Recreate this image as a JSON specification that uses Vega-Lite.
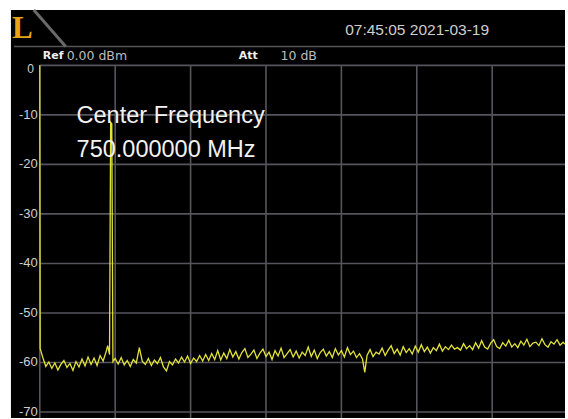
{
  "$schema": "https://vega.github.io/schema/vega-lite/v6.json",
  "width": 568,
  "height": 419,
  "autosize": {"type": "fit", "contains": "padding"},
  "padding": 0,
  "background": "white",
  "config": {"view": {"stroke": null}},
  "encoding": {
    "x": {"field": "x", "type": "quantitative", "scale": {"domain": [-0.5277, 6.9657], "nice": false, "zero": false}, "axis": null},
    "y": {"field": "y", "type": "quantitative", "scale": {"domain": [-71.21, 13.195], "nice": false, "zero": false}, "axis": null}
  },
  "layer": [
    {
      "data": {"values": [{"x": -0.3826, "y": 11.18}]},
      "mark": {"type": "rect", "color": "#000000"},
      "encoding": {"x2": {"datum": 6.9657}, "y2": {"datum": -71.21}}
    },
    {
      "data": {"values": [{"x": 0, "y": 0}, {"x": 0, "y": -10}, {"x": 0, "y": -20}, {"x": 0, "y": -30}, {"x": 0, "y": -40}, {"x": 0, "y": -50}, {"x": 0, "y": -60}, {"x": 0, "y": -70}]},
      "mark": {"type": "rule", "color": "#55555d", "strokeWidth": 1.6},
      "encoding": {"x2": {"datum": 6.9657}, "y2": {"field": "y"}}
    },
    {
      "data": {"values": [{"x": 0, "y": 0}, {"x": 1, "y": 0}, {"x": 2, "y": 0}, {"x": 3, "y": 0}, {"x": 4, "y": 0}, {"x": 5, "y": 0}, {"x": 6, "y": 0}]},
      "mark": {"type": "rule", "color": "#55555d", "strokeWidth": 1.6},
      "encoding": {"x2": {"field": "x"}, "y2": {"datum": -71.21}}
    },
    {
      "data": {"values": [{"x": -0.343, "y": 3.828}]},
      "mark": {"type": "rule", "color": "#555555", "strokeWidth": 1.5},
      "encoding": {"x2": {"datum": 6.9657}, "y2": {"field": "y"}}
    },
    {
      "data": {"values": [{"x": -0.079, "y": 11.18}]},
      "mark": {"type": "rule", "color": "#6a6a6a", "strokeWidth": 3},
      "encoding": {"x2": {"datum": 0.343}, "y2": {"datum": 3.828}}
    },
    {
      "data": {"values": [
        {"x": 0, "y": 0}, {"x": 0.005, "y": -57.2}, {"x": 0.04, "y": -59.0}, {"x": 0.08, "y": -60.8}, {"x": 0.12, "y": -59.9},
        {"x": 0.16, "y": -61.2}, {"x": 0.2, "y": -60.1}, {"x": 0.24, "y": -61.5}, {"x": 0.28, "y": -60.4}, {"x": 0.32, "y": -59.6},
        {"x": 0.36, "y": -61.0}, {"x": 0.4, "y": -60.2}, {"x": 0.44, "y": -61.6}, {"x": 0.48, "y": -59.8}, {"x": 0.52, "y": -60.9},
        {"x": 0.56, "y": -59.3}, {"x": 0.6, "y": -60.7}, {"x": 0.64, "y": -58.9}, {"x": 0.68, "y": -60.4}, {"x": 0.72, "y": -59.1},
        {"x": 0.76, "y": -60.6}, {"x": 0.8, "y": -58.6}, {"x": 0.84, "y": -59.7}, {"x": 0.88, "y": -57.8}, {"x": 0.9, "y": -56.6},
        {"x": 0.925, "y": -58.4}, {"x": 0.94, "y": -11.5}, {"x": 0.955, "y": -11.8}, {"x": 0.97, "y": -59.8},
        {"x": 1.0, "y": -59.2}, {"x": 1.04, "y": -60.3}, {"x": 1.08, "y": -59.0}, {"x": 1.12, "y": -60.5}, {"x": 1.16, "y": -59.6},
        {"x": 1.2, "y": -60.8}, {"x": 1.24, "y": -59.4}, {"x": 1.28, "y": -60.1}, {"x": 1.32, "y": -57.0}, {"x": 1.36, "y": -59.8},
        {"x": 1.4, "y": -60.4}, {"x": 1.44, "y": -59.2}, {"x": 1.48, "y": -60.6}, {"x": 1.52, "y": -59.5}, {"x": 1.56, "y": -60.2},
        {"x": 1.6, "y": -59.0}, {"x": 1.64, "y": -60.9}, {"x": 1.68, "y": -61.7}, {"x": 1.72, "y": -59.8}, {"x": 1.76, "y": -60.5},
        {"x": 1.8, "y": -59.3}, {"x": 1.84, "y": -60.1}, {"x": 1.88, "y": -58.9}, {"x": 1.92, "y": -59.9}, {"x": 1.96, "y": -58.7},
        {"x": 2.0, "y": -60.2}, {"x": 2.04, "y": -59.1}, {"x": 2.08, "y": -59.8}, {"x": 2.12, "y": -58.6}, {"x": 2.16, "y": -59.7},
        {"x": 2.2, "y": -58.4}, {"x": 2.24, "y": -59.6}, {"x": 2.28, "y": -58.2}, {"x": 2.32, "y": -59.4}, {"x": 2.36, "y": -57.6},
        {"x": 2.4, "y": -59.5}, {"x": 2.44, "y": -58.1}, {"x": 2.48, "y": -59.2}, {"x": 2.52, "y": -57.4}, {"x": 2.56, "y": -58.9},
        {"x": 2.6, "y": -57.8}, {"x": 2.64, "y": -59.3}, {"x": 2.68, "y": -58.0}, {"x": 2.72, "y": -57.2}, {"x": 2.76, "y": -59.0},
        {"x": 2.8, "y": -58.3}, {"x": 2.84, "y": -57.5}, {"x": 2.88, "y": -59.2}, {"x": 2.92, "y": -58.1}, {"x": 2.96, "y": -57.3},
        {"x": 3.0, "y": -58.8}, {"x": 3.04, "y": -57.9}, {"x": 3.08, "y": -59.4}, {"x": 3.12, "y": -57.6}, {"x": 3.16, "y": -58.7},
        {"x": 3.2, "y": -57.1}, {"x": 3.24, "y": -59.0}, {"x": 3.28, "y": -58.2}, {"x": 3.32, "y": -57.4}, {"x": 3.36, "y": -58.9},
        {"x": 3.4, "y": -57.7}, {"x": 3.44, "y": -59.1}, {"x": 3.48, "y": -57.9}, {"x": 3.52, "y": -58.6}, {"x": 3.56, "y": -56.9},
        {"x": 3.6, "y": -58.8}, {"x": 3.64, "y": -57.5}, {"x": 3.68, "y": -59.2}, {"x": 3.72, "y": -58.0}, {"x": 3.76, "y": -57.3},
        {"x": 3.8, "y": -58.7}, {"x": 3.84, "y": -57.8}, {"x": 3.88, "y": -59.0}, {"x": 3.92, "y": -57.2}, {"x": 3.96, "y": -58.5},
        {"x": 4.0, "y": -57.6}, {"x": 4.04, "y": -58.9}, {"x": 4.08, "y": -57.0}, {"x": 4.12, "y": -58.4}, {"x": 4.16, "y": -57.7},
        {"x": 4.2, "y": -59.0}, {"x": 4.24, "y": -58.2}, {"x": 4.28, "y": -59.3}, {"x": 4.31, "y": -62.0}, {"x": 4.34, "y": -58.6},
        {"x": 4.38, "y": -57.4}, {"x": 4.42, "y": -58.8}, {"x": 4.46, "y": -57.9}, {"x": 4.5, "y": -58.3}, {"x": 4.54, "y": -57.1},
        {"x": 4.58, "y": -58.6}, {"x": 4.62, "y": -57.5}, {"x": 4.66, "y": -56.6}, {"x": 4.7, "y": -58.2}, {"x": 4.74, "y": -57.3},
        {"x": 4.78, "y": -58.5}, {"x": 4.82, "y": -56.8}, {"x": 4.86, "y": -58.0}, {"x": 4.9, "y": -57.2}, {"x": 4.94, "y": -58.3},
        {"x": 4.98, "y": -56.7}, {"x": 5.02, "y": -57.9}, {"x": 5.06, "y": -56.4}, {"x": 5.1, "y": -57.8}, {"x": 5.14, "y": -56.9},
        {"x": 5.18, "y": -58.1}, {"x": 5.22, "y": -57.0}, {"x": 5.26, "y": -57.6}, {"x": 5.3, "y": -56.3}, {"x": 5.34, "y": -57.7},
        {"x": 5.38, "y": -56.8}, {"x": 5.42, "y": -57.4}, {"x": 5.46, "y": -56.5}, {"x": 5.5, "y": -57.3}, {"x": 5.54, "y": -57.0},
        {"x": 5.58, "y": -57.5}, {"x": 5.62, "y": -56.2}, {"x": 5.66, "y": -57.2}, {"x": 5.7, "y": -56.6}, {"x": 5.74, "y": -57.4},
        {"x": 5.78, "y": -56.0}, {"x": 5.82, "y": -57.1}, {"x": 5.86, "y": -55.6}, {"x": 5.9, "y": -56.9}, {"x": 5.94, "y": -57.3},
        {"x": 5.98, "y": -56.1}, {"x": 6.02, "y": -55.4}, {"x": 6.06, "y": -56.8}, {"x": 6.1, "y": -57.2}, {"x": 6.14, "y": -56.0},
        {"x": 6.18, "y": -56.7}, {"x": 6.22, "y": -55.5}, {"x": 6.26, "y": -56.9}, {"x": 6.3, "y": -56.2}, {"x": 6.34, "y": -57.0},
        {"x": 6.38, "y": -55.7}, {"x": 6.42, "y": -56.5}, {"x": 6.46, "y": -55.3}, {"x": 6.5, "y": -56.8}, {"x": 6.54, "y": -56.1},
        {"x": 6.58, "y": -55.9}, {"x": 6.62, "y": -56.6}, {"x": 6.66, "y": -55.2}, {"x": 6.7, "y": -56.4}, {"x": 6.74, "y": -56.9},
        {"x": 6.78, "y": -55.8}, {"x": 6.82, "y": -56.3}, {"x": 6.86, "y": -55.4}, {"x": 6.9, "y": -56.5}, {"x": 6.94, "y": -55.9},
        {"x": 6.965, "y": -56.3}
      ]},
      "mark": {"type": "line", "color": "#e2e23a", "strokeWidth": 1.3},
      "encoding": {"order": {"field": "x", "type": "quantitative"}}
    },
    {
      "data": {"values": [{"x": -0.0264, "y": -10, "t": "-10"}, {"x": -0.0264, "y": -20, "t": "-20"}, {"x": -0.0264, "y": -30, "t": "-30"}, {"x": -0.0264, "y": -40, "t": "-40"}, {"x": -0.0264, "y": -50, "t": "-50"}, {"x": -0.0264, "y": -60, "t": "-60"}, {"x": -0.0264, "y": -70, "t": "-70"}]},
      "mark": {"type": "text", "align": "right", "baseline": "middle", "font": "Liberation Sans", "fontSize": 13, "color": "#cfcfcf"},
      "encoding": {"text": {"field": "t"}}
    },
    {
      "data": {"values": [{"x": -0.079, "y": -0.7, "t": "0"}]},
      "mark": {"type": "text", "align": "right", "baseline": "middle", "font": "Liberation Sans", "fontSize": 12, "color": "#cfcfcf"},
      "encoding": {"text": {"field": "t"}}
    },
    {
      "data": {"values": [{"x": 0.488, "y": -11.58, "t": "Center Frequency"}, {"x": 0.488, "y": -18.43, "t": "750.000000 MHz"}]},
      "mark": {"type": "text", "align": "left", "baseline": "alphabetic", "font": "Liberation Sans", "fontSize": 23.5, "color": "#f2f2f2"},
      "encoding": {"text": {"field": "t"}}
    },
    {
      "data": {"values": [{"x": 0.04, "y": 1.914, "t": "Ref"}, {"x": 2.639, "y": 1.914, "t": "Att"}]},
      "mark": {"type": "text", "align": "left", "baseline": "middle", "font": "DejaVu Sans", "fontWeight": "bold", "fontSize": 11, "color": "#f0f0f0"},
      "encoding": {"text": {"field": "t"}}
    },
    {
      "data": {"values": [{"x": 0.356, "y": 1.914, "t": "0.00 dBm"}, {"x": 3.193, "y": 1.914, "t": "10 dB"}]},
      "mark": {"type": "text", "align": "left", "baseline": "middle", "font": "DejaVu Sans", "fontSize": 12.5, "color": "#bdbdbd"},
      "encoding": {"text": {"field": "t"}}
    },
    {
      "data": {"values": [{"x": 4.05, "y": 7.05, "t": "07:45:05 2021-03-19"}]},
      "mark": {"type": "text", "align": "left", "baseline": "middle", "font": "Liberation Sans", "fontSize": 15.5, "color": "#cfcfcf"},
      "encoding": {"text": {"field": "t"}}
    },
    {
      "data": {"values": [{"x": -0.369, "y": 5.54, "t": "L"}]},
      "mark": {"type": "text", "align": "left", "baseline": "alphabetic", "font": "Liberation Serif", "fontWeight": "bold", "fontSize": 31, "color": "#e8a317"},
      "encoding": {"text": {"field": "t"}}
    }
  ]
}
